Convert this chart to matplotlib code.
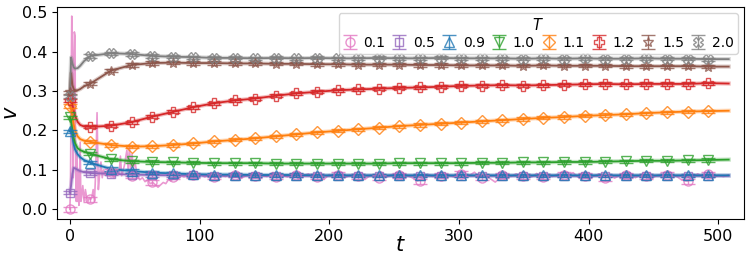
import numpy as np
import matplotlib
matplotlib.use("Agg")
import matplotlib.pyplot as plt

temps = ['0.1', '0.5', '0.9', '1.0', '1.1', '1.2', '1.5', '2.0']
colors = ['tab:pink', 'tab:purple', 'tab:blue', 'tab:green',
          'tab:orange', 'tab:red', 'tab:brown', 'tab:gray']
markers = ['o', 's', '^', 'v', 'D', 'P', '*', 'X']
msizes = [6.5, 6, 6.5, 6.5, 6.5, 6.5, 7.5, 6.5]
yerrs = [0.006, 0.004, 0.004, 0.004, 0.004, 0.004, 0.004, 0.004]

# time grid of smoothed curves (early transient + marker times + end)
t_line = [0, 1, 2, 3, 4, 6, 8, 11,
          15.9, 31.8, 47.6, 63.5, 79.4, 95.3, 111.1, 127.0, 142.9, 158.8,
          174.6, 190.5, 206.4, 222.3, 238.1, 254.0, 269.9, 285.8, 301.6,
          317.5, 333.4, 349.3, 365.1, 381.0, 396.9, 412.8, 428.6, 444.5,
          460.4, 476.3, 492.1, 508]

v_05 = [0.042, 0.060, 0.090, 0.105, 0.104, 0.100, 0.097, 0.094,
        0.092, 0.090, 0.088, 0.087, 0.086, 0.086, 0.085, 0.085, 0.085, 0.085,
        0.085, 0.085, 0.085, 0.085, 0.085, 0.085, 0.085, 0.085, 0.085,
        0.085, 0.085, 0.085, 0.085, 0.085, 0.085, 0.085, 0.085, 0.085,
        0.085, 0.085, 0.085, 0.085]
v_09 = [0.198, 0.205, 0.185, 0.165, 0.152, 0.140, 0.132, 0.125,
        0.118, 0.102, 0.097, 0.093, 0.091, 0.089, 0.088, 0.088, 0.087, 0.087,
        0.087, 0.086, 0.086, 0.086, 0.086, 0.086, 0.086, 0.086, 0.086,
        0.086, 0.086, 0.086, 0.086, 0.086, 0.086, 0.086, 0.086, 0.086,
        0.086, 0.086, 0.086, 0.086]
v_10 = [0.233, 0.225, 0.200, 0.180, 0.168, 0.155, 0.150, 0.146,
        0.141, 0.127, 0.122, 0.120, 0.119, 0.118, 0.117, 0.117, 0.117, 0.116,
        0.116, 0.116, 0.116, 0.116, 0.116, 0.117, 0.117, 0.117, 0.117,
        0.118, 0.118, 0.119, 0.119, 0.120, 0.120, 0.121, 0.122, 0.123,
        0.123, 0.124, 0.125, 0.126]
v_11 = [0.262, 0.255, 0.235, 0.215, 0.200, 0.185, 0.178, 0.174,
        0.171, 0.163, 0.159, 0.160, 0.163, 0.167, 0.172, 0.176, 0.180, 0.185,
        0.190, 0.195, 0.199, 0.203, 0.207, 0.211, 0.214, 0.217, 0.220,
        0.223, 0.226, 0.229, 0.232, 0.234, 0.237, 0.239, 0.241, 0.244,
        0.246, 0.248, 0.249, 0.250]
v_12 = [0.277, 0.275, 0.265, 0.250, 0.238, 0.222, 0.214, 0.210,
        0.209, 0.212, 0.221, 0.235, 0.247, 0.259, 0.269, 0.276, 0.281, 0.288,
        0.294, 0.298, 0.302, 0.304, 0.306, 0.308, 0.309, 0.311, 0.313,
        0.314, 0.315, 0.314, 0.315, 0.316, 0.317, 0.318, 0.317, 0.318,
        0.318, 0.318, 0.320, 0.319]
v_15 = [0.297, 0.345, 0.315, 0.305, 0.302, 0.302, 0.305, 0.312,
        0.319, 0.352, 0.366, 0.371, 0.372, 0.371, 0.371, 0.370, 0.370, 0.369,
        0.369, 0.368, 0.368, 0.367, 0.367, 0.367, 0.366, 0.366, 0.365,
        0.365, 0.365, 0.364, 0.365, 0.364, 0.364, 0.364, 0.363, 0.363,
        0.363, 0.363, 0.362, 0.362]
v_20 = [0.287, 0.385, 0.370, 0.360, 0.357, 0.358, 0.364, 0.376,
        0.389, 0.396, 0.394, 0.389, 0.387, 0.386, 0.384, 0.384, 0.383, 0.384,
        0.383, 0.384, 0.383, 0.383, 0.384, 0.383, 0.383, 0.384, 0.383,
        0.383, 0.383, 0.382, 0.383, 0.382, 0.383, 0.382, 0.382, 0.383,
        0.382, 0.382, 0.381, 0.381]

# T = 0.1 : raw noisy trace
t_pink_early = [0, 0.5, 1.0, 1.5, 2.0, 2.5, 3.0, 3.5, 4.0, 4.5, 5.0, 5.5, 6.0,
                6.5, 7.0, 8.0, 8.5, 9, 10, 11, 12, 13, 14, 15, 16, 17, 18, 19,
                20, 21, 22, 23, 24, 25, 26, 28, 30, 32, 34, 36, 38, 39, 40, 42,
                44, 45, 46, 47, 48, 49, 50, 52, 54, 56, 58, 60, 62, 64, 66, 68,
                70, 72, 74, 76, 78, 80, 82, 84, 86, 88]
v_pink_early = [0.0, 0.05, 0.30, 0.49, 0.40, 0.08, 0.30, 0.45, 0.44, 0.10,
                0.02, 0.15, 0.02, 0.10, 0.01, 0.17, 0.02, 0.03, 0.06, 0.02,
                0.05, 0.03, 0.02, 0.03, 0.025, 0.03, 0.05, 0.02, 0.10, 0.245,
                0.05, 0.09, 0.12, 0.08, 0.10, 0.085, 0.09, 0.095, 0.08, 0.10,
                0.09, 0.135, 0.085, 0.11, 0.15, 0.10, 0.16, 0.09, 0.14, 0.10,
                0.125, 0.085, 0.075, 0.08, 0.07, 0.075, 0.065, 0.068, 0.062,
                0.056, 0.062, 0.068, 0.065, 0.075, 0.072, 0.08, 0.083, 0.078,
                0.085, 0.082]
t_pink_late = np.arange(92, 509, 4)
v_pink_late = [0.086, 0.084, 0.090, 0.082, 0.087, 0.079, 0.088, 0.083, 0.091,
               0.084, 0.078, 0.086, 0.089, 0.081, 0.087, 0.083, 0.093, 0.080,
               0.086, 0.082, 0.089, 0.078, 0.085, 0.090, 0.081, 0.087, 0.076,
               0.088, 0.084, 0.092, 0.080, 0.086, 0.083, 0.090, 0.077, 0.087,
               0.082, 0.095, 0.081, 0.088, 0.084, 0.079, 0.086, 0.080, 0.072,
               0.078, 0.089, 0.083, 0.091, 0.080, 0.087, 0.082, 0.089, 0.079,
               0.086, 0.094, 0.081, 0.087, 0.078, 0.069, 0.080, 0.088, 0.083,
               0.090, 0.079, 0.086, 0.082, 0.091, 0.078, 0.087, 0.083, 0.089,
               0.080, 0.085, 0.093, 0.081, 0.087, 0.077, 0.084, 0.090, 0.082,
               0.088, 0.079, 0.086, 0.083, 0.092, 0.080, 0.087, 0.082, 0.076,
               0.085, 0.089, 0.081, 0.088, 0.083, 0.074, 0.072, 0.082, 0.090,
               0.084, 0.088, 0.080, 0.086, 0.083, 0.087]
v_pink_marks = [0.0, 0.025, 0.095, 0.085, 0.068, 0.083, 0.086, 0.083, 0.087,
                0.085, 0.082, 0.087, 0.083, 0.088, 0.084, 0.080, 0.086, 0.071,
                0.085, 0.090, 0.080, 0.086, 0.084, 0.083, 0.088, 0.085, 0.079,
                0.086, 0.084, 0.088, 0.071, 0.089]

smooth_series = [v_05, v_09, v_10, v_11, v_12, v_15, v_20]
mark_idx = [0] + list(range(8, 39))

fig = plt.figure(figsize=(7.48, 2.67), dpi=100)
ax = fig.add_axes([0.076, 0.18, 0.919, 0.795])

t_line = np.array(t_line)
t_marks = t_line[mark_idx]

handles = []
# pink
t_pink = np.concatenate([t_pink_early, t_pink_late])
v_pink = np.concatenate([v_pink_early, v_pink_late])
ax.plot(t_pink, v_pink, color=colors[0], lw=1.2, alpha=0.75, zorder=2)
h = ax.errorbar(t_marks, v_pink_marks, yerr=yerrs[0], fmt=markers[0],
                color=colors[0], mfc='none', ms=msizes[0], mew=1.0, capsize=5,
                elinewidth=1.0, alpha=0.8, zorder=3)
handles.append(h)

for i, vals in enumerate(smooth_series, start=1):
    vals = np.array(vals)
    c = colors[i]
    ax.plot(t_line, vals, color=c, lw=3.0, alpha=0.3, zorder=2)
    ax.plot(t_line, vals, color=c, lw=1.3, zorder=2.5)
    h = ax.errorbar(t_marks, vals[mark_idx], yerr=yerrs[i], fmt=markers[i],
                    color=c, mfc='none', ms=msizes[i], mew=1.0, capsize=5,
                    elinewidth=1.0, alpha=0.8, zorder=3)
    handles.append(h)

ax.set_xlim(-10, 520)
ax.set_ylim(-0.0245, 0.514)
ax.set_xticks([0, 100, 200, 300, 400, 500])
ax.set_yticks([0.0, 0.1, 0.2, 0.3, 0.4, 0.5])
ax.tick_params(labelsize=11.5)
ax.set_xlabel('$t$', fontsize=15)
ax.set_ylabel('$v$', fontsize=15)
ax.xaxis.set_label_coords(0.5, -0.075)
ax.yaxis.set_label_coords(-0.052, 0.5)

ax.legend(handles, temps, ncol=8, title='$T$', loc='upper right',
          fontsize=10, title_fontsize=10.5, handlelength=1.0,
          handletextpad=0.5, columnspacing=0.5, borderpad=0.3,
          labelspacing=0.2, borderaxespad=0.45)

fig.savefig('out.png', dpi=100)
